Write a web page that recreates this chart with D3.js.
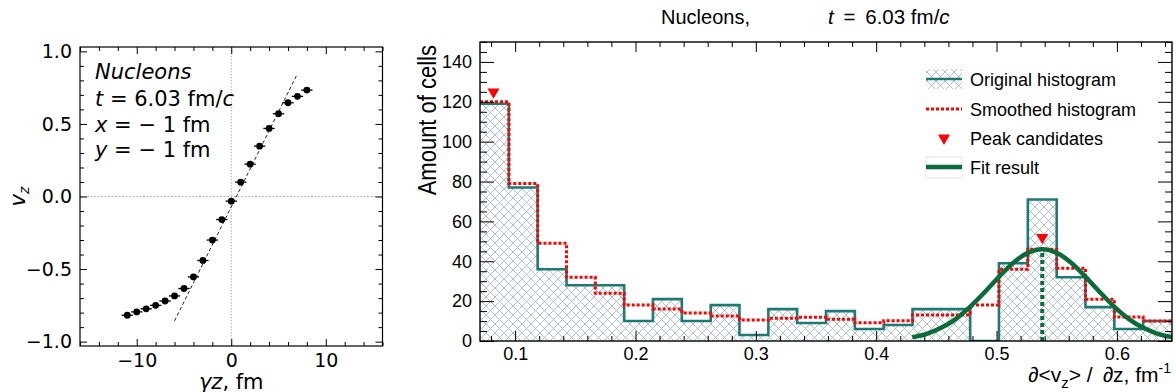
<!DOCTYPE html>
<html>
<head>
<meta charset="utf-8">
<script src="https://cdn.jsdelivr.net/npm/d3@7"></script>
<style>
body { margin: 0; background: #fff; }
svg { display: block; }
</style>
</head>
<body>
<svg id="chart" width="1176" height="392"></svg>
<script>
// ---- left panel: v_z against gamma*z ----
var gzVals = [-11, -10, -9, -8, -7, -6, -5, -4, -3, -2, -1, 0, 1, 2, 3, 4, 5, 6, 7, 8];
var vzVals = [-0.818, -0.795, -0.774, -0.750, -0.720, -0.685, -0.634, -0.554, -0.441, -0.300,
              -0.159, -0.032, 0.099, 0.223, 0.347, 0.469, 0.570, 0.646, 0.690, 0.733];
var gzErr = [0.6, 0.6, 0.6, 0.6, 0.6, 0.6, 0.6, 0.6, 0.6, 0.6, 0.6, 0.6, 0.6, 0.6, 0.6, 0.6, 0.6, 0.6, 0.6, 0.6];
var slopeX = [-6.0, 6.95];
var slopeY = [-0.857, 0.839];
var leftXTicks = [-10, 0, 10];
var leftYTicks = [-1.0, -0.5, 0.0, 0.5, 1.0];

// ---- right panel: histogram of d<v_z>/dz ----
var binEdges = [0.0708, 0.0948, 0.1187, 0.1427, 0.1666, 0.1906, 0.2145, 0.2385, 0.2625, 0.2864,
                0.3104, 0.3343, 0.3583, 0.3823, 0.4062, 0.4302, 0.4541, 0.4781, 0.5020, 0.5260,
                0.5500, 0.5739, 0.5979, 0.6218, 0.6458];
var origCounts = [119, 77, 36, 28, 28, 10, 21, 10, 18, 3, 16, 9, 15, 6, 8, 16, 16, 0, 39, 71, 32, 17, 6, 10];
var smoothCounts = [120, 79, 49, 32, 24, 18, 16, 14, 12.5, 10.5, 11.4, 11.9, 10.9, 9.2, 10.2, 13, 13, 18, 36, 46, 36.5, 21, 12, 10];
var peakX = [0.082, 0.538];
var peakY = [125, 52];
var fitX = [0.430, 0.442, 0.454, 0.466, 0.478, 0.490, 0.502, 0.514, 0.526, 0.538,
            0.550, 0.562, 0.574, 0.586, 0.598, 0.610, 0.622, 0.634, 0.646];
var fitY = [1.9, 3.6, 6.6, 11.0, 17.1, 24.4, 32.2, 39.3, 44.2, 46.0,
            44.2, 39.3, 32.2, 24.4, 17.1, 11.0, 6.6, 3.6, 1.9];
var rightXTicks = [0.1, 0.2, 0.3, 0.4, 0.5, 0.6];
var rightYTicks = [0, 20, 40, 60, 80, 100, 120, 140];
var legendLabels = ["Original histogram", "Smoothed histogram", "Peak candidates", "Fit result"];

var teal = "#1f7a76", green = "#0b6b3a", hatch = "#a6b9c8";

var svg = d3.select("#chart");

// ================= left panel =================
var L = {left: 80, right: 382.5, top: 47, bottom: 346};
var xL = d3.scaleLinear().domain([-16, 16]).range([L.left, L.right]);
var yL = d3.scaleLinear().domain([-1.03, 1.03]).range([L.bottom, L.top]);
var mpl = "'DejaVu Sans', sans-serif";
var minus = function(d) { return d < 0 ? "\u2212" + Math.abs(d) : "" + d; };

var gl = svg.append("g");

// reference lines at zero
gl.append("line").attr("x1", xL(0)).attr("x2", xL(0)).attr("y1", L.top).attr("y2", L.bottom)
	.attr("stroke", "#b8b8b8").attr("stroke-width", 1.1).attr("stroke-dasharray", "1.5,1.5");
gl.append("line").attr("x1", L.left).attr("x2", L.right).attr("y1", yL(0)).attr("y2", yL(0))
	.attr("stroke", "#a0a0a0").attr("stroke-width", 0.8).attr("stroke-dasharray", "2,1.5");

// linear slope line
gl.append("line")
	.attr("x1", xL(slopeX[0])).attr("y1", yL(slopeY[0]))
	.attr("x2", xL(slopeX[1])).attr("y2", yL(slopeY[1]))
	.attr("stroke", "#222").attr("stroke-width", 1).attr("stroke-dasharray", "3.5,2.5");

var pts = gzVals.map(function(g, i) { return {x: g, y: vzVals[i], e: gzErr[i]}; });
gl.selectAll(".ebar").data(pts).enter().append("line")
	.attr("x1", function(d) { return xL(d.x - d.e); })
	.attr("x2", function(d) { return xL(d.x + d.e); })
	.attr("y1", function(d) { return yL(d.y); })
	.attr("y2", function(d) { return yL(d.y); })
	.attr("stroke", "#000").attr("stroke-width", 1.3);
gl.selectAll(".pt").data(pts).enter().append("circle")
	.attr("cx", function(d) { return xL(d.x); })
	.attr("cy", function(d) { return yL(d.y); })
	.attr("r", 3.4).attr("fill", "#000");

// axes, ticks inward on all four sides
function styleAxis(g, fontFamily, size) {
	g.select(".domain").remove();
	g.selectAll("line").attr("stroke", "#000").attr("stroke-width", 1);
	g.selectAll("text").attr("font-family", fontFamily).attr("font-size", size).attr("fill", "#000");
}
var minorXL = d3.range(-16, 17, 2).filter(function(v) { return v % 10 !== 0; });
var minorYL = d3.range(-10, 11).map(function(v) { return v / 10; }).filter(function(v) { return Math.abs(v * 2 - Math.round(v * 2)) > 1e-6; });

gl.append("g").attr("transform", "translate(0," + L.bottom + ")")
	.call(d3.axisBottom(xL).tickValues(leftXTicks).tickSize(-7).tickPadding(8).tickFormat(minus))
	.call(styleAxis, mpl, 19);
gl.append("g").attr("transform", "translate(0," + L.bottom + ")")
	.call(d3.axisBottom(xL).tickValues(minorXL).tickSize(-4).tickFormat(""))
	.call(styleAxis, mpl, 19);
gl.append("g").attr("transform", "translate(0," + L.top + ")")
	.call(d3.axisTop(xL).tickValues(leftXTicks).tickSize(-7).tickFormat(""))
	.call(styleAxis, mpl, 19);
gl.append("g").attr("transform", "translate(0," + L.top + ")")
	.call(d3.axisTop(xL).tickValues(minorXL).tickSize(-4).tickFormat(""))
	.call(styleAxis, mpl, 19);
gl.append("g").attr("transform", "translate(" + L.left + ",0)")
	.call(d3.axisLeft(yL).tickValues(leftYTicks).tickSize(-7).tickPadding(8).tickFormat(d3.format(".1f")))
	.call(styleAxis, mpl, 19);
gl.append("g").attr("transform", "translate(" + L.left + ",0)")
	.call(d3.axisLeft(yL).tickValues(minorYL).tickSize(-4).tickFormat(""))
	.call(styleAxis, mpl, 19);
gl.append("g").attr("transform", "translate(" + L.right + ",0)")
	.call(d3.axisRight(yL).tickValues(leftYTicks).tickSize(-7).tickFormat(""))
	.call(styleAxis, mpl, 19);
gl.append("g").attr("transform", "translate(" + L.right + ",0)")
	.call(d3.axisRight(yL).tickValues(minorYL).tickSize(-4).tickFormat(""))
	.call(styleAxis, mpl, 19);

gl.append("rect").attr("x", L.left).attr("y", L.top)
	.attr("width", L.right - L.left).attr("height", L.bottom - L.top)
	.attr("fill", "none").attr("stroke", "#000").attr("stroke-width", 1.2);

// annotation
var ann = gl.append("g").attr("font-family", mpl).attr("font-size", 21).attr("fill", "#000");
ann.append("text").attr("x", 95).attr("y", 79).attr("font-style", "italic").text("Nucleons");
var t1 = ann.append("text").attr("x", 95).attr("y", 106);
t1.append("tspan").attr("font-style", "italic").text("t");
t1.append("tspan").text(" = 6.03 fm/");
t1.append("tspan").attr("font-style", "italic").text("c");
var t2 = ann.append("text").attr("x", 95).attr("y", 132);
t2.append("tspan").attr("font-style", "italic").text("x");
t2.append("tspan").text(" = \u2212 1 fm");
var t3 = ann.append("text").attr("x", 95).attr("y", 157);
t3.append("tspan").attr("font-style", "italic").text("y");
t3.append("tspan").text(" = \u2212 1 fm");

// axis labels
var yl = gl.append("text").attr("transform", "translate(25," + yL(0) + ") rotate(-90)")
	.attr("text-anchor", "middle").attr("font-family", mpl).attr("font-size", 21);
yl.append("tspan").attr("font-style", "italic").text("v");
yl.append("tspan").attr("font-style", "italic").attr("font-size", 14).attr("dy", 4).text("z");
var xl = gl.append("text").attr("x", xL(0)).attr("y", 389)
	.attr("text-anchor", "middle").attr("font-family", mpl).attr("font-size", 21);
xl.append("tspan").attr("font-style", "italic").text("\u03b3z");
xl.append("tspan").text(", fm");

// ================= right panel =================
var R = {left: 480, right: 1172, top: 42, bottom: 341};
var xR = d3.scaleLinear().domain([binEdges[0], binEdges[binEdges.length - 1]]).range([R.left, R.right]);
var yR = d3.scaleLinear().domain([0, 150]).range([R.bottom, R.top]);
var root = "'Liberation Sans', Arial, sans-serif";

var defs = svg.append("defs");
var pat = defs.append("pattern").attr("id", "xhatch").attr("patternUnits", "userSpaceOnUse")
	.attr("width", 9).attr("height", 9);
pat.append("path").attr("d", "M0,0L9,9M0,9L9,0M-1,1L1,-1M8,10L10,8M-1,8L1,10M8,-1L10,1")
	.attr("stroke", hatch).attr("stroke-width", 0.9).attr("fill", "none");
defs.append("clipPath").attr("id", "rclip").append("rect")
	.attr("x", R.left).attr("y", R.top).attr("width", R.right - R.left).attr("height", R.bottom - R.top);

var gr = svg.append("g");
var plot = gr.append("g").attr("clip-path", "url(#rclip)");

function stepData(counts) {
	return binEdges.map(function(e, i) { return {x: e, y: counts[Math.min(i, counts.length - 1)]}; });
}
var origStep = stepData(origCounts);
var smoothStep = stepData(smoothCounts);

plot.append("path").datum(origStep)
	.attr("d", d3.area().curve(d3.curveStepAfter)
		.x(function(d) { return xR(d.x); }).y0(yR(0)).y1(function(d) { return yR(d.y); }))
	.attr("fill", "url(#xhatch)");
plot.append("path").datum(origStep)
	.attr("d", d3.line().curve(d3.curveStepAfter)
		.x(function(d) { return xR(d.x); }).y(function(d) { return yR(d.y); }))
	.attr("fill", "none").attr("stroke", teal).attr("stroke-width", 2.6);
plot.append("path").datum(smoothStep)
	.attr("d", d3.line().curve(d3.curveStepAfter)
		.x(function(d) { return xR(d.x); }).y(function(d) { return yR(d.y); }))
	.attr("fill", "none").attr("stroke", "#ff0000").attr("stroke-width", 3).attr("stroke-dasharray", "3,2");

var fitPts = fitX.map(function(x, i) { return {x: x, y: fitY[i]}; });
plot.append("path").datum(fitPts)
	.attr("d", d3.line().curve(d3.curveMonotoneX)
		.x(function(d) { return xR(d.x); }).y(function(d) { return yR(d.y); }))
	.attr("fill", "none").attr("stroke", green).attr("stroke-width", 4.5);
var fitTop = fitPts[d3.maxIndex(fitPts, function(d) { return d.y; })];
plot.append("line").attr("x1", xR(fitTop.x)).attr("x2", xR(fitTop.x))
	.attr("y1", yR(0)).attr("y2", yR(fitTop.y))
	.attr("stroke", green).attr("stroke-width", 4).attr("stroke-dasharray", "4,3");

var tri = d3.symbol().type(d3.symbolTriangle).size(62);
plot.selectAll(".peak").data(peakX.map(function(x, i) { return {x: x, y: peakY[i]}; }))
	.enter().append("path")
	.attr("d", tri)
	.attr("transform", function(d) { return "translate(" + xR(d.x) + "," + yR(d.y) + ") rotate(180)"; })
	.attr("fill", "#ff0000");

// axes (ticks inward, both sides)
var minorXR = d3.range(4, 33).map(function(v) { return v / 50; }).filter(function(v) { return Math.abs(v * 10 - Math.round(v * 10)) > 1e-6; });
var minorYR = d3.range(0, 151, 5).filter(function(v) { return v % 20 !== 0; });
gr.append("g").attr("transform", "translate(0," + R.bottom + ")")
	.call(d3.axisBottom(xR).tickValues(rightXTicks).tickSize(-10).tickPadding(6).tickFormat(d3.format(".1f")))
	.call(styleAxis, root, 18);
gr.append("g").attr("transform", "translate(0," + R.bottom + ")")
	.call(d3.axisBottom(xR).tickValues(minorXR).tickSize(-5).tickFormat(""))
	.call(styleAxis, root, 18);
gr.append("g").attr("transform", "translate(0," + R.top + ")")
	.call(d3.axisTop(xR).tickValues(rightXTicks).tickSize(-10).tickFormat(""))
	.call(styleAxis, root, 18);
gr.append("g").attr("transform", "translate(0," + R.top + ")")
	.call(d3.axisTop(xR).tickValues(minorXR).tickSize(-5).tickFormat(""))
	.call(styleAxis, root, 18);
gr.append("g").attr("transform", "translate(" + R.left + ",0)")
	.call(d3.axisLeft(yR).tickValues(rightYTicks).tickSize(-14).tickPadding(8).tickFormat(d3.format("d")))
	.call(styleAxis, root, 18);
gr.append("g").attr("transform", "translate(" + R.left + ",0)")
	.call(d3.axisLeft(yR).tickValues(minorYR).tickSize(-7).tickFormat(""))
	.call(styleAxis, root, 18);
gr.append("g").attr("transform", "translate(" + R.right + ",0)")
	.call(d3.axisRight(yR).tickValues(rightYTicks).tickSize(-14).tickFormat(""))
	.call(styleAxis, root, 18);
gr.append("g").attr("transform", "translate(" + R.right + ",0)")
	.call(d3.axisRight(yR).tickValues(minorYR).tickSize(-7).tickFormat(""))
	.call(styleAxis, root, 18);

gr.append("rect").attr("x", R.left).attr("y", R.top)
	.attr("width", R.right - R.left).attr("height", R.bottom - R.top)
	.attr("fill", "none").attr("stroke", "#000").attr("stroke-width", 1.4);

// title
gr.append("text").attr("x", 661).attr("y", 24).attr("font-family", root).attr("font-size", 20).text("Nucleons,");
var tt = gr.append("text").attr("x", 828).attr("y", 24).attr("font-family", root).attr("font-size", 20.5)
	.style("white-space", "pre");
tt.append("tspan").attr("font-style", "italic").text("t");
tt.append("tspan").text("\u2009 = \u20096.03 fm/");
tt.append("tspan").attr("font-style", "italic").text("c");

// axis titles
gr.append("text").attr("transform", "translate(436,45) rotate(-90) scale(0.88,1)")
	.attr("text-anchor", "end").attr("font-family", root).attr("font-size", 25).text("Amount of cells");
var xt = gr.append("text").attr("x", 1171).attr("y", 382).attr("text-anchor", "end")
	.attr("font-family", root).attr("font-size", 21).style("white-space", "pre");
xt.append("tspan").text("\u2202<v");
xt.append("tspan").attr("font-size", 15).attr("dy", 6).text("z");
xt.append("tspan").attr("dy", -6).text("> / \u2009\u2202z, fm");
xt.append("tspan").attr("font-size", 14).attr("dy", -9).text("-1");

// legend
var lg = gr.append("g");
var rowY = [79, 109, 138, 167];
lg.append("rect").attr("x", 926).attr("y", rowY[0] - 10).attr("width", 36).attr("height", 20).attr("fill", "url(#xhatch)");
lg.append("line").attr("x1", 926).attr("x2", 962).attr("y1", rowY[0]).attr("y2", rowY[0])
	.attr("stroke", teal).attr("stroke-width", 2.6);
lg.append("line").attr("x1", 926).attr("x2", 962).attr("y1", rowY[1]).attr("y2", rowY[1])
	.attr("stroke", "#ff0000").attr("stroke-width", 3).attr("stroke-dasharray", "3,2");
lg.append("path").attr("d", tri).attr("transform", "translate(944," + rowY[2] + ") rotate(180)").attr("fill", "#ff0000");
lg.append("rect").attr("x", 926).attr("y", rowY[3] - 10).attr("width", 36).attr("height", 21)
	.attr("fill", "none").attr("stroke", "#e4e4e4").attr("stroke-width", 1);
lg.append("line").attr("x1", 926).attr("x2", 962).attr("y1", rowY[3]).attr("y2", rowY[3])
	.attr("stroke", green).attr("stroke-width", 4.5);
lg.selectAll(".lt").data(legendLabels).enter().append("text")
	.attr("x", 970).attr("y", function(d, i) { return rowY[i] + 6.5; })
	.attr("font-family", root).attr("font-size", 18).text(function(d) { return d; });
</script>
</body>
</html>
